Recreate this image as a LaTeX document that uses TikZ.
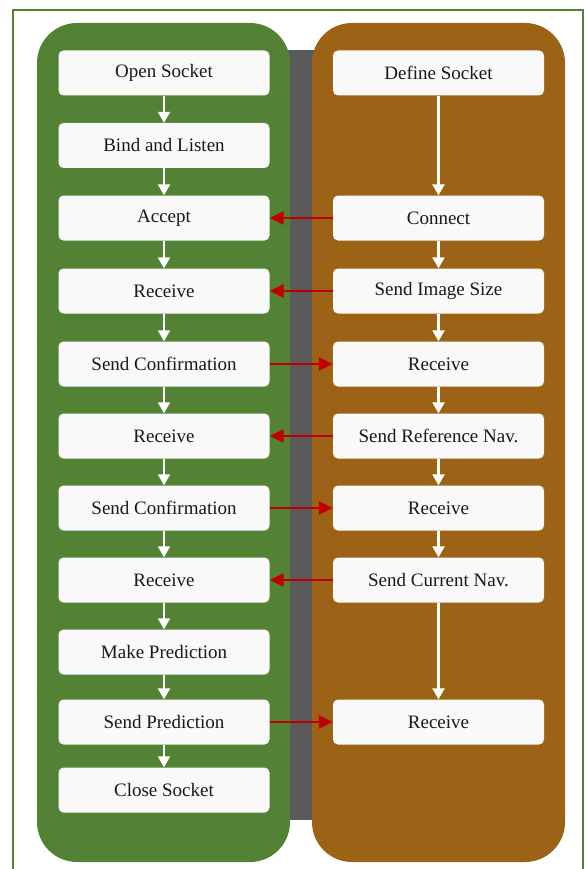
\documentclass[tikz,border=0pt]{standalone}
\usepackage{fontspec}
\setmainfont{Liberation Serif}
\usetikzlibrary{arrows.meta}
\definecolor{leafgreen}{HTML}{548235}
\definecolor{rust}{HTML}{9C6316}
\definecolor{slate}{HTML}{5A5A5C}
\definecolor{paper}{HTML}{F9F9F9}
\definecolor{linkred}{HTML}{C00000}
\tikzset{
  stepbox/.style={fill=paper, rounded corners=5pt, minimum width=211pt,
    minimum height=45pt, inner sep=0pt, font=\fontsize{19}{22}\selectfont, text=black!90},
  flow/.style={white, line width=2.2pt, -{Triangle[length=11pt,width=12pt]}},
  msg/.style={linkred, line width=2.8pt, -{Triangle[length=14pt,width=13pt]}},
}
\begin{document}
\begin{tikzpicture}[x=1pt,y=-1pt]
\useasboundingbox (0,0) rectangle (585,869);
% outer frame
\draw[leafgreen, line width=2.6pt] (13,10) rectangle (583,900);
% middle band and the two lanes
\fill[slate] (280,50) rectangle (320,820);
\fill[leafgreen, rounded corners=40pt] (37,23) rectangle (290,862);
\fill[rust, rounded corners=40pt] (312,23) rectangle (565,862);

% server side
\node[stepbox] (s1) at (164,73) {Open Socket};
\node[stepbox] (s2) at (164,145.5) {Bind and Listen};
\node[stepbox] (s3) at (164,218) {Accept};
\node[stepbox] (s4) at (164,291) {Receive};
\node[stepbox] (s5) at (164,364) {Send Confirmation};
\node[stepbox] (s6) at (164,436) {Receive};
\node[stepbox] (s7) at (164,508) {Send Confirmation};
\node[stepbox] (s8) at (164,580) {Receive};
\node[stepbox] (s9) at (164,652) {Make Prediction};
\node[stepbox] (s10) at (164,722) {Send Prediction};
\node[stepbox] (s11) at (164,790) {Close Socket};

% client side
\node[stepbox] (c1) at (438.5,73) {Define Socket};
\node[stepbox] (c2) at (438.5,218) {Connect};
\node[stepbox] (c3) at (438.5,291) {Send Image Size};
\node[stepbox] (c4) at (438.5,364) {Receive};
\node[stepbox] (c5) at (438.5,436) {Send Reference Nav.};
\node[stepbox] (c6) at (438.5,508) {Receive};
\node[stepbox] (c7) at (438.5,580) {Send Current Nav.};
\node[stepbox] (c8) at (438.5,722) {Receive};

% sequence within each side
\foreach \a/\b in {s1/s2,s2/s3,s3/s4,s4/s5,s5/s6,s6/s7,s7/s8,s8/s9,s9/s10,s10/s11,
                   c1/c2,c2/c3,c3/c4,c4/c5,c5/c6,c6/c7,c7/c8}
  \draw[flow] (\a.south) -- (\b.north);

% messages between the sides
\draw[msg] (c2.west) -- (s3.east);
\draw[msg] (c3.west) -- (s4.east);
\draw[msg] (s5.east) -- (c4.west);
\draw[msg] (c5.west) -- (s6.east);
\draw[msg] (s7.east) -- (c6.west);
\draw[msg] (c7.west) -- (s8.east);
\draw[msg] (s10.east) -- (c8.west);
\end{tikzpicture}
\end{document}
